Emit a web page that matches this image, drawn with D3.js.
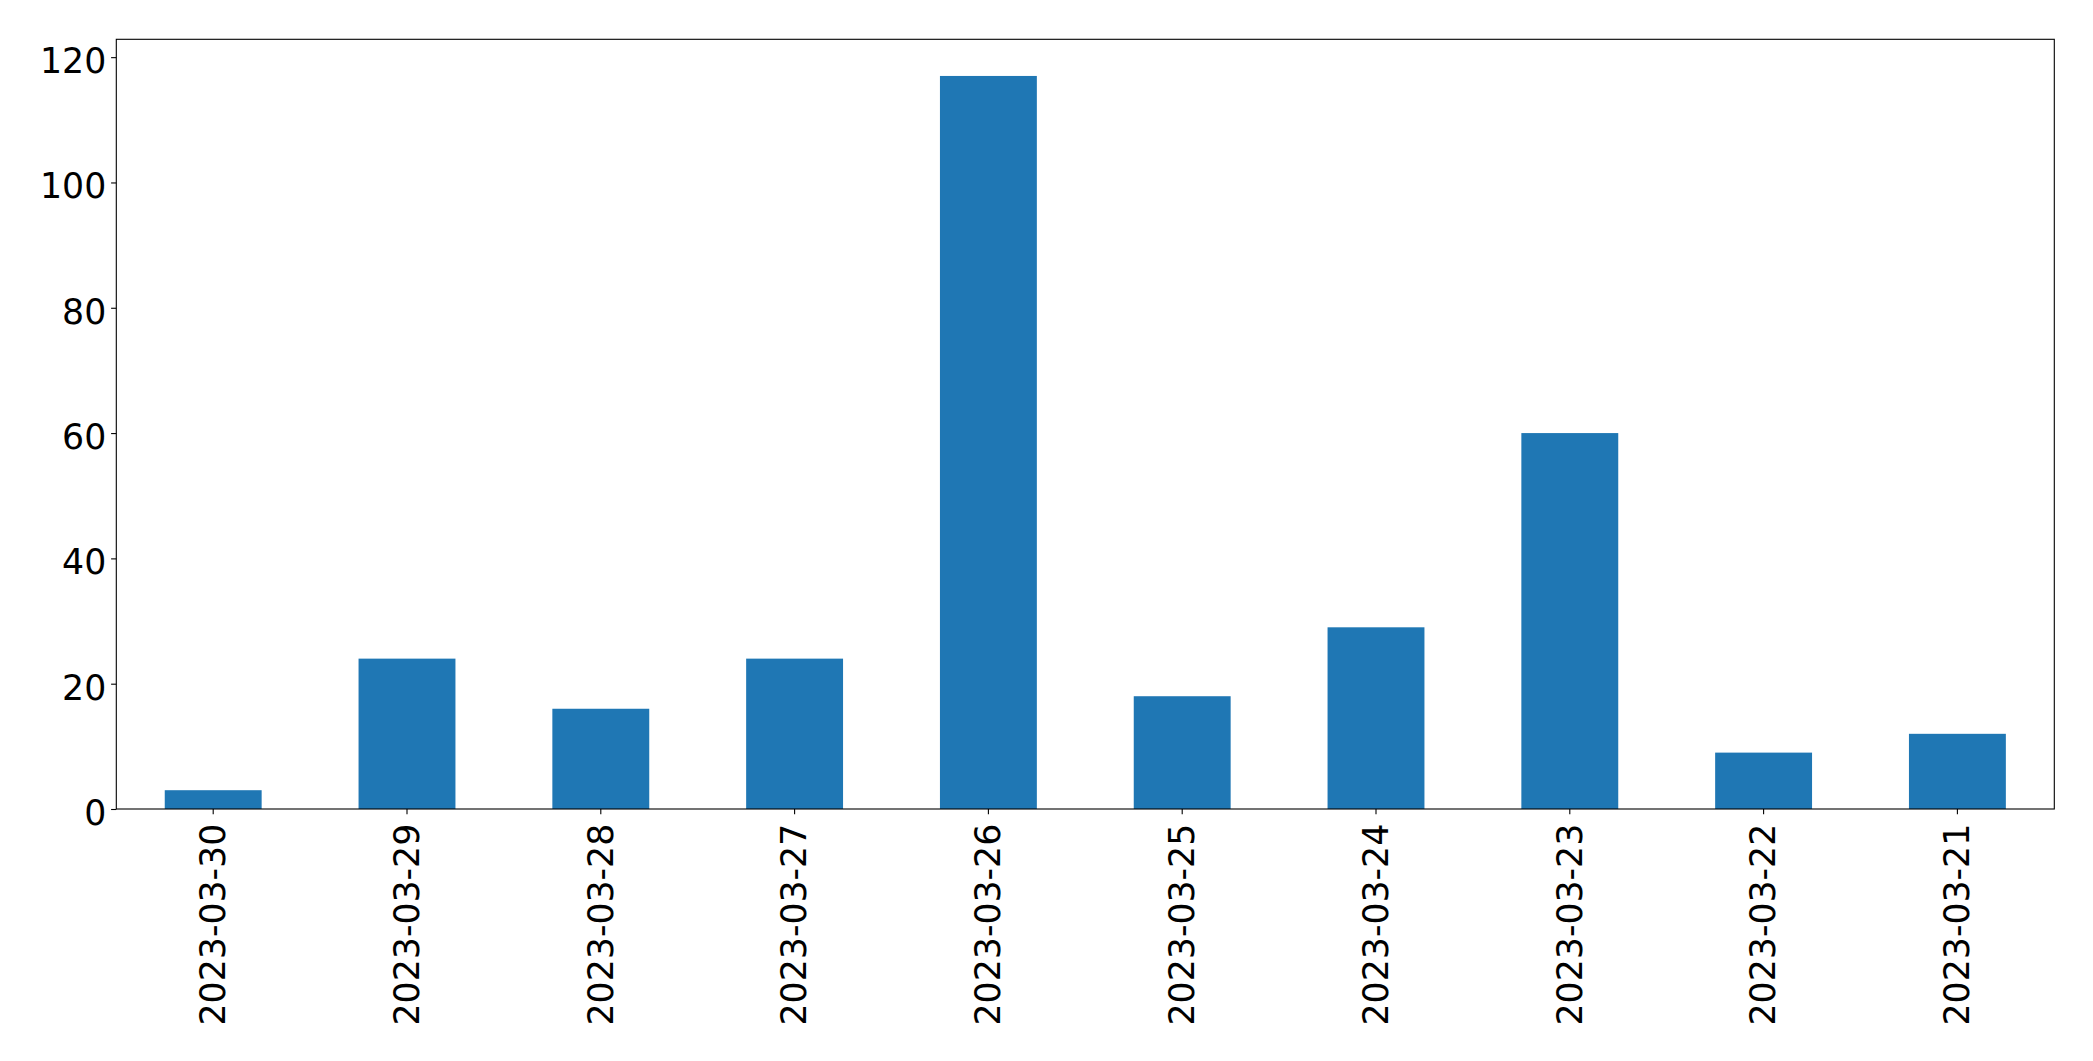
<!DOCTYPE html>
<html>
<head>
<meta charset="utf-8">
<script src="https://cdn.jsdelivr.net/npm/d3@7"></script>
<style>
  html, body { margin: 0; padding: 0; background: #fff; }
  svg { display: block; }
  text { font-family: "DejaVu Sans", sans-serif; }
</style>
</head>
<body>
<svg id="chart" width="2093" height="1061"></svg>
<script>
const categories = ["2023-03-30","2023-03-29","2023-03-28","2023-03-27","2023-03-26","2023-03-25","2023-03-24","2023-03-23","2023-03-22","2023-03-21"];
const values = [3, 24, 16, 24, 117, 18, 29, 60, 9, 12];
const yTicks = [0, 20, 40, 60, 80, 100, 120];

const W = 2093, H = 1061;
const margin = { left: 116.3, right: W - 2054.3, top: 39.3, bottom: H - 809 };
const iw = W - margin.left - margin.right;
const ih = H - margin.top - margin.bottom;
const fontPx = 34.72;
const tickLen = 5.2, tickPad = 4.86;

const svg = d3.select("#chart");
const g = svg.append("g").attr("transform", `translate(${margin.left},${margin.top})`);

const x = d3.scaleBand().domain(categories).range([0, iw]).paddingInner(0.5).paddingOuter(0.25);
const yMax = d3.max(values) * 1.05;
const y = d3.scaleLinear().domain([0, yMax]).range([ih, 0]);

g.selectAll("rect.bar").data(values).join("rect")
  .attr("class", "bar")
  .attr("x", (d, i) => x(categories[i]))
  .attr("width", x.bandwidth())
  .attr("y", d => y(d))
  .attr("height", d => y(0) - y(d))
  .attr("fill", "#1f77b4");

// Y axis
const yAxis = g.append("g").call(d3.axisLeft(y).tickValues(yTicks).tickSize(tickLen).tickPadding(tickPad).tickFormat(d3.format("d")));
yAxis.select(".domain").remove();
yAxis.selectAll(".tick line").attr("stroke", "#000").attr("stroke-width", 1.1);
yAxis.selectAll(".tick text").attr("font-size", fontPx).attr("fill", "#000")
  .attr("font-family", "'DejaVu Sans', sans-serif")
  .attr("dy", "15.4px");

// X axis
const xAxis = g.append("g").attr("transform", `translate(0,${ih})`)
  .call(d3.axisBottom(x).tickSize(tickLen).tickPadding(tickPad));
xAxis.select(".domain").remove();
xAxis.selectAll(".tick line").attr("stroke", "#000").attr("stroke-width", 1.1);
xAxis.selectAll(".tick text")
  .attr("font-size", fontPx).attr("fill", "#000")
  .attr("font-family", "'DejaVu Sans', sans-serif")
  .attr("x", 0).attr("y", 0).attr("dy", "11.8px")
  .attr("text-anchor", "end")
  .attr("transform", `translate(0,14.7) rotate(-90)`);

// Frame
g.append("rect")
  .attr("x", 0).attr("y", 0).attr("width", iw).attr("height", ih)
  .attr("fill", "none").attr("stroke", "#000").attr("stroke-width", 1.1);
</script>
</body>
</html>
